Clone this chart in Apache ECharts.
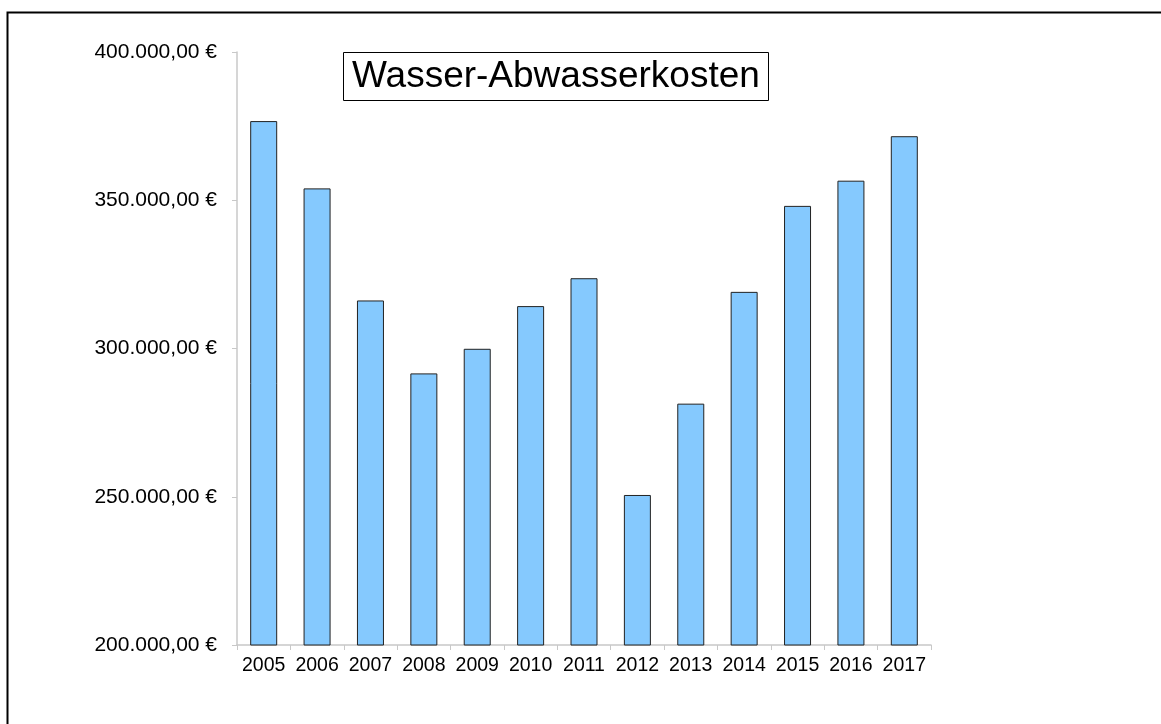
<!DOCTYPE html>
<html>
<head>
<meta charset="utf-8">
<title>Wasser-Abwasserkosten</title>
<script src="https://cdn.jsdelivr.net/npm/echarts@6/dist/echarts.min.js"></script>
<style>
  html, body { margin: 0; padding: 0; background: #fff; }
  #chart { width: 1161px; height: 724px; }
</style>
</head>
<body>
<div id="chart"></div>
<script>
// Jahre und Kosten
const years = ['2005', '2006', '2007', '2008', '2009', '2010', '2011', '2012', '2013', '2014', '2015', '2016', '2017'];
const costs = [376700, 354000, 316200, 291600, 299900, 314300, 323700, 250600, 281400, 319100, 348100, 356600, 371600];

// 400000 -> "400.000,00 €"
function euro(v) {
    const s = String(Math.round(v)).replace(/\B(?=(\d{3})+(?!\d))/g, '.');
    return s + ',00 €';
}

const chart = echarts.init(document.getElementById('chart'));

const option = {
    animation: false,
    backgroundColor: '#fff',
    textStyle: { fontFamily: 'Liberation Sans, Arial, sans-serif' },
    title: {
        text: 'Wasser-Abwasserkosten',
        left: 343,
        top: 52,
        padding: [6, 9, 6, 9],
        borderColor: '#000',
        borderWidth: 1,
        textStyle: {
            fontSize: 37,
            fontWeight: 'normal',
            color: '#000',
            lineHeight: 37,
            fontFamily: 'Liberation Sans, Arial, sans-serif'
        }
    },
    grid: {
        left: 237,
        right: 230,
        top: 52,
        bottom: 79
    },
    xAxis: {
        type: 'category',
        data: years,
        axisLine: { lineStyle: { color: '#c8c8c8', width: 1.5 } },
        axisTick: { show: true, length: 5, lineStyle: { color: '#c8c8c8' } },
        axisLabel: { color: '#000', fontSize: 19.5, margin: 11, interval: 0 }
    },
    yAxis: {
        type: 'value',
        min: 200000,
        max: 400000,
        interval: 50000,
        splitLine: { show: false },
        axisLine: { show: true, lineStyle: { color: '#c8c8c8', width: 1.5 } },
        axisTick: { show: true, length: 5, lineStyle: { color: '#c8c8c8' } },
        axisLabel: { color: '#000', fontSize: 21, margin: 20, formatter: euro }
    },
    series: [
        {
            type: 'bar',
            data: costs,
            barWidth: 27,
            itemStyle: {
                color: '#85c9fe',
                borderColor: '#222',
                borderWidth: 1
            }
        }
    ],
    graphic: [
        {
            // Rahmen um das Diagramm
            type: 'rect',
            left: 5,
            top: 10,
            shape: { x: 0, y: 0, width: 1300, height: 900 },
            style: { fill: 'none', stroke: '#000', lineWidth: 2 },
            silent: true
        }
    ]
};

chart.setOption(option);
</script>
</body>
</html>
